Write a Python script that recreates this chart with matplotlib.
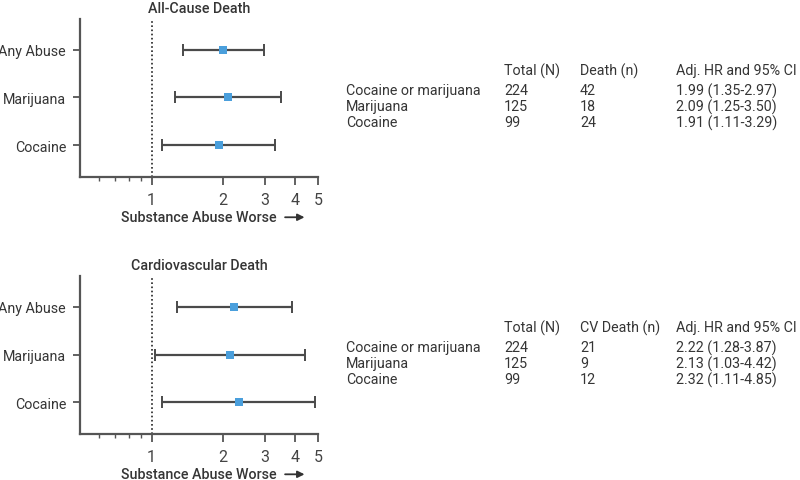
import matplotlib
matplotlib.use("Agg")
import matplotlib.pyplot as plt
from matplotlib.ticker import FixedLocator, NullFormatter

plt.rcParams['font.family'] = ['Roboto', 'DejaVu Sans']

groups = ["Any Abuse", "Marijuana", "Cocaine"]
table_rows = ["Cocaine or marijuana", "Marijuana", "Cocaine"]
total_n = [224, 125, 99]

# all-cause death
allcause_deaths = [42, 18, 24]
allcause_hr = [1.99, 2.09, 1.91]
allcause_lo = [1.35, 1.25, 1.11]
allcause_hi = [2.97, 3.50, 3.29]

# cardiovascular death
cv_deaths = [21, 9, 12]
cv_hr = [2.22, 2.13, 2.32]
cv_lo = [1.28, 1.03, 1.11]
cv_hi = [3.87, 4.42, 4.85]

major_ticks = [1, 2, 3, 4, 5]
minor_ticks = [0.6, 0.7, 0.8, 0.9]

txt = "#353535"
line_c = "#4a4a4a"
blue = "#4a9fdc"
fs = 10.3

fig = plt.figure(figsize=(8, 4.81), dpi=100)


def forest(ax, hr, lo, hi, title):
    y = list(range(len(groups)))
    xerr = [[h - l for h, l in zip(hr, lo)], [u - h for h, u in zip(hr, hi)]]
    ax.errorbar(hr, y, xerr=xerr, fmt="none", ecolor=line_c, elinewidth=1.6,
                capsize=4, capthick=1.4, zorder=2)
    ax.scatter(hr, y, marker="s", s=38, color=blue, zorder=3, linewidths=0)
    ax.axvline(1, color="#222222", linestyle=(0, (1, 1.5)), linewidth=1.2, zorder=1)
    ax.set_xscale("log")
    ax.set_xlim(0.5, 5)
    ax.set_ylim(2.67, -0.65)
    ax.xaxis.set_major_locator(FixedLocator(major_ticks))
    ax.xaxis.set_minor_locator(FixedLocator(minor_ticks))
    ax.xaxis.set_minor_formatter(NullFormatter())
    ax.set_xticklabels([str(t) for t in major_ticks])
    ax.set_yticks(y)
    ax.set_yticklabels(groups)
    for s in ["top", "right"]:
        ax.spines[s].set_visible(False)
    for s in ["left", "bottom"]:
        ax.spines[s].set_color("#555555")
        ax.spines[s].set_linewidth(1.6)
    ax.tick_params(axis="x", which="major", length=6, width=1.3, color="#555555",
                   labelsize=11.5, labelcolor="#444444", pad=5)
    ax.tick_params(axis="x", which="minor", length=3, width=1, color="#555555")
    ax.tick_params(axis="y", length=5, width=1.3, color="#555555",
                   labelsize=fs, labelcolor=txt, pad=5)
    ax.set_title(title, fontsize=fs, color=txt, fontweight="medium", pad=5)
    ax.text(0.5, -0.255, "Substance Abuse Worse", transform=ax.transAxes,
            fontsize=fs, color=txt, fontweight="medium", ha="center", va="center")
    ax.annotate("", xy=(0.955, -0.255), xytext=(0.85, -0.255),
                xycoords="axes fraction",
                arrowprops=dict(arrowstyle="-|>", color="#333333", lw=1.3,
                                mutation_scale=10),
                annotation_clip=False)


def table(y0, deaths, hr, lo, hi, death_head):
    cols = [0.4325, 0.63, 0.725, 0.845]
    heads = ["", "Total (N)", death_head, "Adj. HR and 95% CI"]
    for c, h in zip(cols, heads):
        fig.text(c, y0, h, fontsize=fs, color=txt, va="center")
    for i, name in enumerate(table_rows):
        yy = y0 - (i + 1) * 0.0335 - 0.008
        vals = [name, str(total_n[i]), str(deaths[i]),
                f"{hr[i]:.2f} ({lo[i]:.2f}-{hi[i]:.2f})"]
        for c, v in zip(cols, vals):
            fig.text(c, yy, v, fontsize=fs, color=txt, va="center")


ax1 = fig.add_axes([0.1, 0.63, 0.2975, 0.3285])
forest(ax1, allcause_hr, allcause_lo, allcause_hi, "All-Cause Death")
ax2 = fig.add_axes([0.1, 0.0956, 0.2975, 0.3285])
forest(ax2, cv_hr, cv_lo, cv_hi, "Cardiovascular Death")

table(1 - 71 / 481, allcause_deaths, allcause_hr, allcause_lo, allcause_hi, "Death (n)")
table(1 - 328 / 481, cv_deaths, cv_hr, cv_lo, cv_hi, "CV Death (n)")

fig.savefig("out.png", dpi=100)
